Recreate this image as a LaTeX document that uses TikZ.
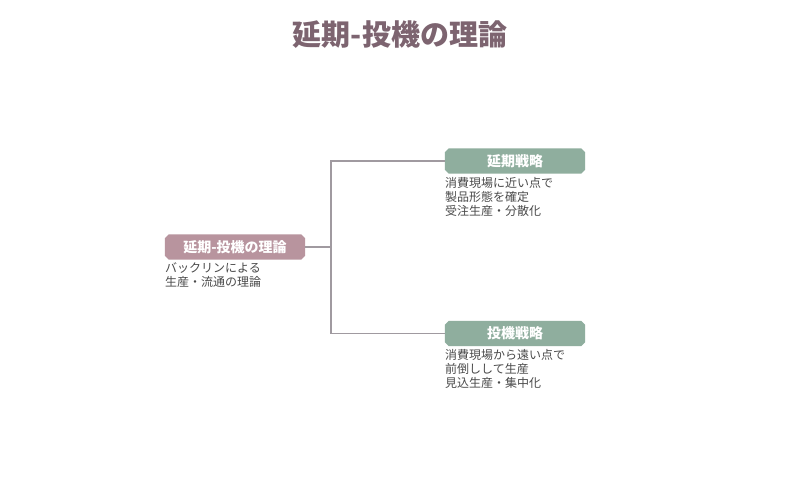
\documentclass[tikz,border=0pt]{standalone}
\usepackage{fontspec}
\setmainfont{Noto Sans CJK JP}
\usetikzlibrary{backgrounds}
\definecolor{titlec}{HTML}{7D6470}
\definecolor{mauve}{HTML}{B8949E}
\definecolor{sage}{HTML}{8FAE9E}
\definecolor{linec}{HTML}{A09AA0}
\definecolor{textc}{HTML}{4A4A4A}
\tikzset{
  box/.style={rectangle, minimum width=140pt, minimum height=25pt, inner sep=0pt, text=white,
    font=\fontsize{14}{16}\selectfont\bfseries},
  desc/.style={anchor=north west, align=left, inner sep=0pt, text=textc,
    font=\fontsize{12}{14}\selectfont},
  conn/.style={draw=linec, line width=1.5pt}
}
\newcommand{\chamfill}[2]{%
  \fill[#2] ([xshift=4pt]#1.north west) -- ([xshift=-4pt]#1.north east) -- ([yshift=-4pt]#1.north east)
  -- ([yshift=4pt]#1.south east) -- ([xshift=-4pt]#1.south east) -- ([xshift=4pt]#1.south west)
  -- ([yshift=4pt]#1.south west) -- ([yshift=-4pt]#1.north west) -- cycle;}
\begin{document}
\begin{tikzpicture}[x=1pt,y=-1pt]
\useasboundingbox (0,0) rectangle (800,500);
\node[text=titlec, font=\fontsize{29}{34}\selectfont\bfseries] (title) at (400,35) {延期-投機の理論};
\node[box] (root) at (235,247) {延期-投機の理論};
\node[box] (a) at (515,161) {延期戦略};
\node[box] (b) at (515,333.5) {投機戦略};
\begin{scope}[on background layer]
\fill[white] (0,0) rectangle (800,500);
\chamfill{root}{mauve}
\chamfill{a}{sage}
\chamfill{b}{sage}
\end{scope}
\node[desc] (rootd) at (165,262) {バックリンによる\\生産・流通の理論};
\node[desc] (ad) at (445,177) {消費現場に近い点で\\製品形態を確定\\受注生産・分散化};
\node[desc] (bd) at (445,349) {消費現場から遠い点で\\前倒しして生産\\見込生産・集中化};
\coordinate (j) at (331,247);
\draw[conn] (root.east) -- (j);
\draw[conn] (j) |- (a.west);
\draw[conn] (j) |- (b.west);
\end{tikzpicture}
\end{document}
